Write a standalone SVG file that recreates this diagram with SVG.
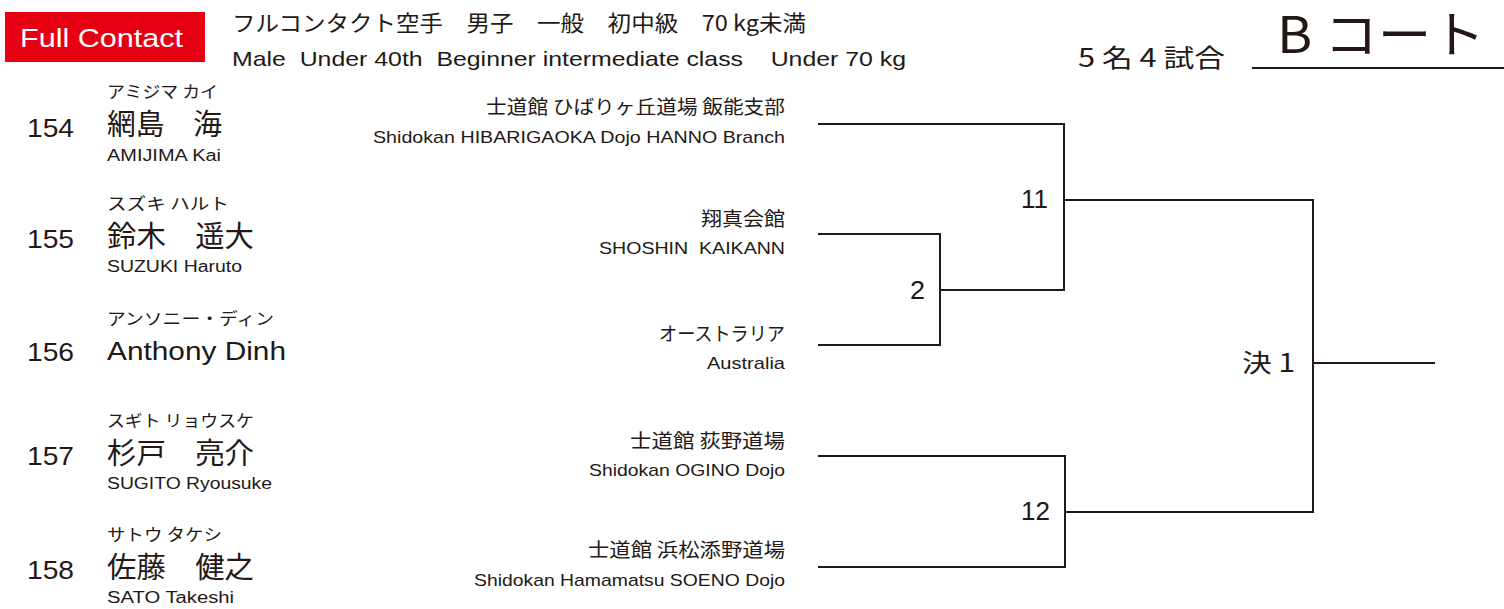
<svg xmlns="http://www.w3.org/2000/svg" width="1504" height="609" viewBox="0 0 1504 609">
<style>
text{fill:#231815;font-family:"Noto Sans CJK JP","Liberation Sans",sans-serif;}
.en{font-family:"Liberation Sans","Noto Sans CJK JP",sans-serif;}
.num{font-family:"Liberation Sans Narrow","Liberation Sans","Noto Sans CJK JP",sans-serif;font-size:25px;}
.kana{font-size:16.5px;}
.kanji{font-size:29px;}
.rom{font-size:16px;}
.djp{font-size:19px;text-anchor:end;}
.den{font-size:17px;text-anchor:end;}
.mn{font-size:25px;text-anchor:end;}
.ln{fill:none;stroke:#231815;stroke-width:2;}
</style>
<rect width="1504" height="609" fill="#ffffff"/>
<g id="header">
<rect x="5" y="12" width="200" height="50" fill="#e60012"/>
<text x="20" y="47" class="en" font-size="25" style="fill:#ffffff" textLength="163" lengthAdjust="spacingAndGlyphs">Full Contact</text>
<text x="232" y="31" font-size="22" textLength="574" lengthAdjust="spacingAndGlyphs">フルコンタクト空手　男子　一般　初中級　70 kg未満</text>
<text x="232" y="66" class="en" font-size="21" textLength="674" lengthAdjust="spacingAndGlyphs" xml:space="preserve">Male  Under 40th  Beginner intermediate class    Under 70 kg</text>
<text x="1078" y="67" font-size="25" textLength="147" lengthAdjust="spacingAndGlyphs">5 名 4 試合</text>
<text x="1277" y="53" font-size="50" textLength="208" lengthAdjust="spacingAndGlyphs">B コート</text>
<line x1="1252" y1="68" x2="1504" y2="68" class="ln"/>
</g>
<g id="p154">
<text x="107" y="98" class="kana" textLength="111" lengthAdjust="spacingAndGlyphs">アミジマ カイ</text>
<text x="27" y="137" class="num" textLength="47" lengthAdjust="spacingAndGlyphs">154</text>
<text x="107" y="135" class="kanji" textLength="115" lengthAdjust="spacingAndGlyphs">網島　海</text>
<text x="107" y="161" class="rom en" textLength="114" lengthAdjust="spacingAndGlyphs">AMIJIMA Kai</text>
<text x="785" y="114" class="djp" textLength="299" lengthAdjust="spacingAndGlyphs">士道館 ひばりヶ丘道場 飯能支部</text>
<text x="785" y="143" class="den en" textLength="412" lengthAdjust="spacingAndGlyphs">Shidokan HIBARIGAOKA Dojo HANNO Branch</text>
</g>
<g id="p155">
<text x="107" y="210" class="kana" textLength="122" lengthAdjust="spacingAndGlyphs">スズキ ハルト</text>
<text x="27" y="248" class="num" textLength="47" lengthAdjust="spacingAndGlyphs">155</text>
<text x="107" y="247" class="kanji" textLength="147" lengthAdjust="spacingAndGlyphs">鈴木　遥大</text>
<text x="107" y="272" class="rom en" textLength="135" lengthAdjust="spacingAndGlyphs">SUZUKI Haruto</text>
<text x="785" y="226" class="djp" textLength="84" lengthAdjust="spacingAndGlyphs">翔真会館</text>
<text x="785" y="254" class="den en" textLength="186" lengthAdjust="spacingAndGlyphs" xml:space="preserve">SHOSHIN  KAIKANN</text>
</g>
<g id="p156">
<text x="107" y="325" class="kana" textLength="167" lengthAdjust="spacingAndGlyphs">アンソニー・ディン</text>
<text x="27" y="361" class="num" textLength="47" lengthAdjust="spacingAndGlyphs">156</text>
<text x="107" y="360" class="en" font-size="26" textLength="179" lengthAdjust="spacingAndGlyphs">Anthony Dinh</text>
<text x="785" y="341" class="djp" textLength="126" lengthAdjust="spacingAndGlyphs">オーストラリア</text>
<text x="785" y="369" class="den en" textLength="78" lengthAdjust="spacingAndGlyphs">Australia</text>
</g>
<g id="p157">
<text x="107" y="427" class="kana" textLength="147" lengthAdjust="spacingAndGlyphs">スギト リョウスケ</text>
<text x="27" y="465" class="num" textLength="47" lengthAdjust="spacingAndGlyphs">157</text>
<text x="107" y="464" class="kanji" textLength="147" lengthAdjust="spacingAndGlyphs">杉戸　亮介</text>
<text x="107" y="489" class="rom en" textLength="165" lengthAdjust="spacingAndGlyphs">SUGITO Ryousuke</text>
<text x="785" y="448" class="djp" textLength="155" lengthAdjust="spacingAndGlyphs">士道館 荻野道場</text>
<text x="785" y="476" class="den en" textLength="196" lengthAdjust="spacingAndGlyphs">Shidokan OGINO Dojo</text>
</g>
<g id="p158">
<text x="107" y="541" class="kana" textLength="115" lengthAdjust="spacingAndGlyphs">サトウ タケシ</text>
<text x="27" y="579" class="num" textLength="47" lengthAdjust="spacingAndGlyphs">158</text>
<text x="107" y="578" class="kanji" textLength="147" lengthAdjust="spacingAndGlyphs">佐藤　健之</text>
<text x="107" y="603" class="rom en" textLength="127" lengthAdjust="spacingAndGlyphs">SATO Takeshi</text>
<text x="785" y="557" class="djp" textLength="197" lengthAdjust="spacingAndGlyphs">士道館 浜松添野道場</text>
<text x="785" y="586" class="den en" textLength="311" lengthAdjust="spacingAndGlyphs">Shidokan Hamamatsu SOENO Dojo</text>
</g>
<g id="connectors">
<polyline class="ln" points="818,124 1064,124 1064,290 940,290"/>
<polyline class="ln" points="818,234 940,234 940,345 818,345"/>
<polyline class="ln" points="1064,200 1313,200 1313,512 1065,512"/>
<polyline class="ln" points="818,456 1065,456 1065,567 818,567"/>
<line class="ln" x1="1313" y1="363" x2="1435" y2="363"/>
</g>
<g id="labels">
<text x="1048" y="208" class="mn num" textLength="27" lengthAdjust="spacingAndGlyphs">11</text>
<text x="925" y="299" class="mn num" textLength="15" lengthAdjust="spacingAndGlyphs">2</text>
<text x="1050" y="520" class="mn num" textLength="29" lengthAdjust="spacingAndGlyphs">12</text>
<text x="1295" y="372" class="mn" font-size="25" textLength="53" lengthAdjust="spacingAndGlyphs">決 1</text>
</g>
</svg>
